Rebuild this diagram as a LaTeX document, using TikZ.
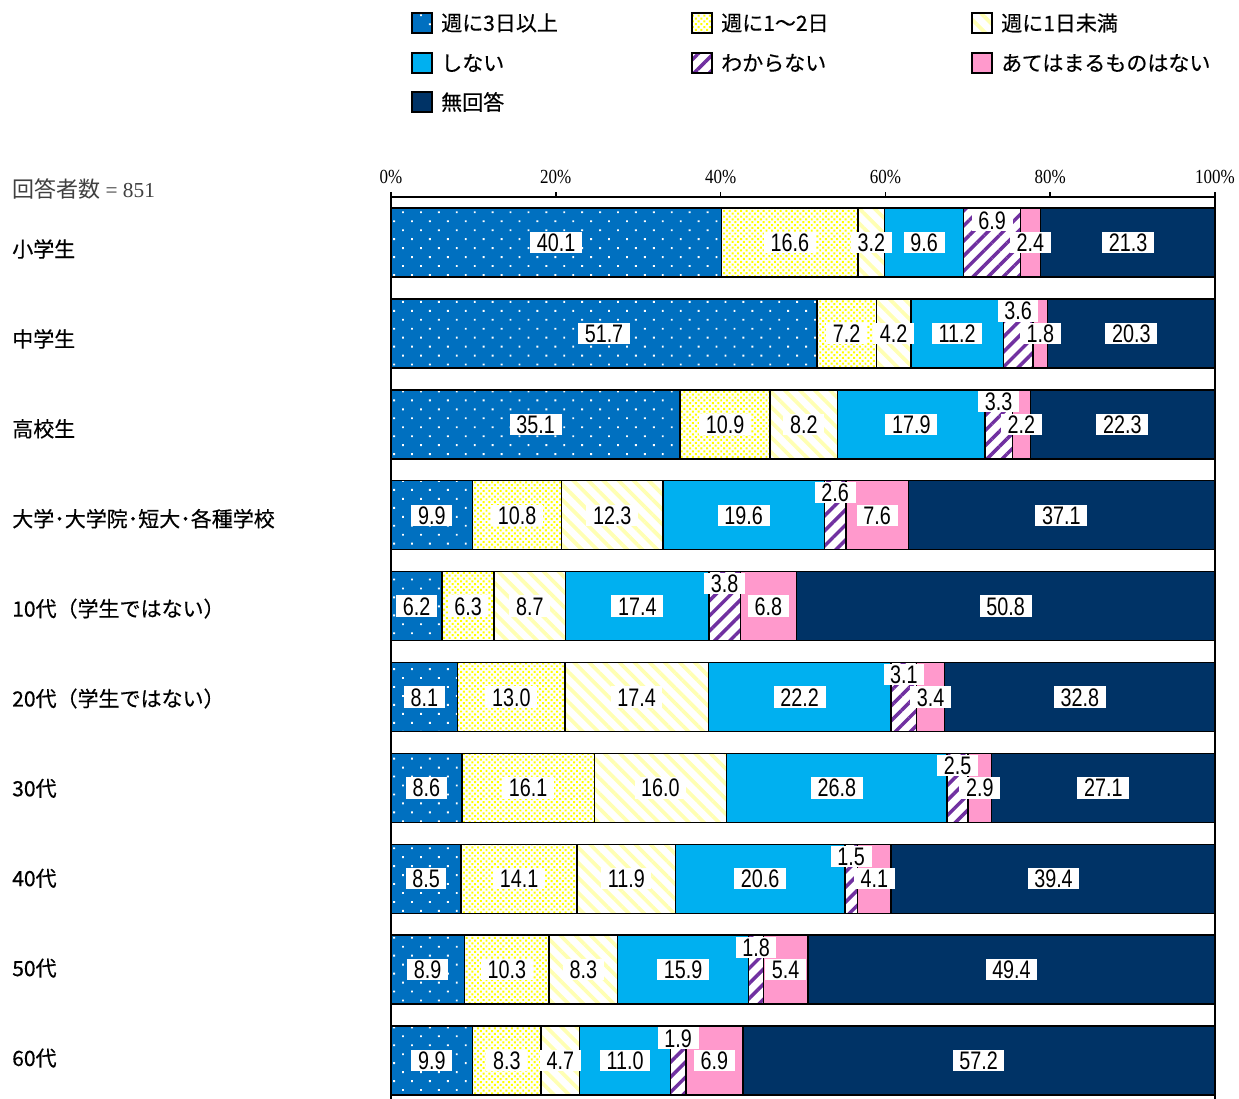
\documentclass[tikz,border=0pt]{standalone}
\usepackage{fontspec}
\usetikzlibrary{patterns.meta}
\newfontfamily\jpfont[FakeBold=0.4]{Noto Sans CJK JP}
\newfontfamily\jplight{Noto Sans CJK JP}
\newfontfamily\numfont[FakeStretch=0.78]{Liberation Sans}
\newfontfamily\tickfont[FakeStretch=0.85]{Liberation Serif}
\newfontfamily\nfont{Liberation Serif}
\definecolor{cblue}{HTML}{0070C0}
\definecolor{cyel}{HTML}{FFFF00}
\definecolor{cpale}{HTML}{FFFFB3}
\definecolor{ccyan}{HTML}{00B0F0}
\definecolor{cpurp}{HTML}{7030A0}
\definecolor{cpink}{HTML}{FF99CC}
\definecolor{cnavy}{HTML}{003366}
\begin{document}
\begin{tikzpicture}[x=0.75pt,y=-0.75pt,
	seg/.style={draw=black,line width=1.1pt},
	seg1/.style={seg,preaction={fill=cblue},pattern={Dots[distance=9.5pt,angle=45,radius=1pt]},pattern color=white},
	seg2/.style={seg,pattern={Dots[distance=3pt,angle=45,radius=1.05pt]},pattern color=cyel},
	seg3/.style={seg,pattern={Lines[distance=8pt,angle=-45,line width=2.8pt]},pattern color=cpale},
	seg4/.style={seg,fill=ccyan},
	seg5/.style={seg,pattern={Lines[distance=8pt,angle=45,line width=2.6pt]},pattern color=cpurp},
	seg6/.style={seg,fill=cpink},
	seg7/.style={seg,fill=cnavy},
	vlab/.style={fill=white,inner xsep=5pt,inner ysep=1.2pt,text height=13.6pt,text depth=0pt,font=\numfont\fontsize{19}{19}\selectfont},
	rlab/.style={anchor=west,inner sep=0pt,font=\jpfont\fontsize{15.75}{16}\selectfont},
	tlab/.style={anchor=base,inner sep=0pt,font=\tickfont\fontsize{15}{16}\selectfont}]
	\useasboundingbox (0,0) rectangle (1239,1099);
	% legend
	\foreach \txt/\cx/\cy/\k in {週に3日以上/412/23/1,週に1～2日/692/23/2,週に1日未満/972/23/3,しない/412/63/4,わからない/692/63/5,あてはまるものはない/972/63/6,無回答/412/102/7}{
		\draw[seg\k,line width=1.6pt] (\cx,\cy-10) rectangle (\cx+20,\cy+10);
		\node[rlab] (lg\k) at (\cx+29,\cy) {\txt};
	}
	\node[anchor=west,inner sep=0pt,text=black!75] (nres) at (12,189) {{\jplight\fontsize{16.5}{17}\selectfont 回答者数}{\nfont\fontsize{16}{17}\selectfont\ = 851}};
	% row labels
	\foreach \txt [count=\r from 0] in {小学生,中学生,高校生,大学･大学院･短大･各種学校,10代（学生ではない）,20代（学生ではない）,30代,40代,50代,60代}
		\node[rlab] (rl\r) at (12,249+89.9*\r) {\txt};
	% bars
	\foreach \vals [count=\r from 0] in {{40.1,16.6,3.2,9.6,6.9,2.4,21.3},{51.7,7.2,4.2,11.2,3.6,1.8,20.3},{35.1,10.9,8.2,17.9,3.3,2.2,22.3},{9.9,10.8,12.3,19.6,2.6,7.6,37.1},{6.2,6.3,8.7,17.4,3.8,6.8,50.8},{8.1,13.0,17.4,22.2,3.1,3.4,32.8},{8.6,16.1,16.0,26.8,2.5,2.9,27.1},{8.5,14.1,11.9,20.6,1.5,4.1,39.4},{8.9,10.3,8.3,15.9,1.8,5.4,49.4},{9.9,8.3,4.7,11.0,1.9,6.9,57.2}}{
		\pgfmathsetmacro\ytop{208+90.9*\r}
		\gdef\cum{0}
		\foreach \v [count=\k] in \vals {
			\pgfmathsetmacro\xa{391+8.24*\cum}
			\pgfmathsetmacro\xb{ifthenelse(\k==7,1215,391+8.24*(\cum+\v))}
			\draw[seg\k] (\xa,\ytop) rectangle (\xb,\ytop+69);
			\pgfmathsetmacro\nc{\cum+\v}\xdef\cum{\nc}
		}
		\gdef\cum{0}
		\foreach \v [count=\k] in \vals {
			\pgfmathsetmacro\xm{391+8.24*(\cum+\v/2)}
			\pgfmathsetmacro\ym{ifthenelse(\k==5,\ytop+12,\ytop+34.5)}
			\node[vlab] (v\r-\k) at (\xm,\ym) {\v};
			\pgfmathsetmacro\nc{\cum+\v}\xdef\cum{\nc}
		}
	}
	% axes
	\draw[line width=1.5pt] (391,197) -- (1215,197);
	\draw[line width=1.5pt] (391,192) -- (391,1099);
	\draw[line width=1.5pt] (1215,192) -- (1215,1099);
	\foreach \p in {0,20,...,100}{
		\draw[line width=1.2pt] (391+8.24*\p,192) -- (391+8.24*\p,197);
		\node[tlab] (t\p) at (391+8.24*\p,183) {\p\%};
	}
\end{tikzpicture}
\end{document}
